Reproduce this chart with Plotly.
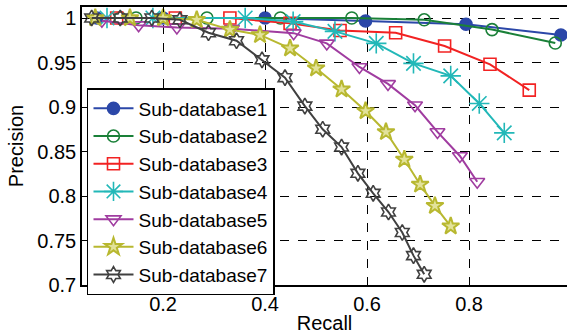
import plotly.graph_objects as go

names = ["Sub-database1", "Sub-database2", "Sub-database3", "Sub-database4",
         "Sub-database5", "Sub-database6", "Sub-database7"]

r1 = [0.07, 0.2, 0.4, 0.597, 0.794, 0.98]
p1 = [1.0, 1.0, 1.0, 0.9966, 0.993, 0.981]

r2 = [0.116, 0.147, 0.286, 0.43, 0.570, 0.712, 0.845, 0.969]
p2 = [1.0, 1.0, 1.0, 1.0, 1.0, 0.998, 0.987, 0.972]

r3 = [0.109, 0.224, 0.331, 0.449, 0.547, 0.656, 0.752, 0.841, 0.918]
p3 = [1.0, 1.0, 1.0, 0.994, 0.986, 0.9835, 0.9685, 0.948, 0.919]

r4 = [0.09, 0.18, 0.361, 0.455, 0.537, 0.618, 0.691, 0.764, 0.82, 0.869]
p4 = [1.0, 1.0, 1.0, 0.996, 0.985, 0.9715, 0.949, 0.935, 0.904, 0.871]

r5 = [0.08, 0.152, 0.227, 0.335, 0.456, 0.521, 0.585, 0.641, 0.694, 0.738, 0.782, 0.816]
p5 = [0.997, 0.992, 0.9895, 0.988, 0.983, 0.9715, 0.945, 0.926, 0.902, 0.872, 0.845, 0.816]

r6 = [0.067, 0.135, 0.2, 0.266, 0.331, 0.39, 0.449, 0.5, 0.55, 0.597, 0.637, 0.673, 0.704, 0.733, 0.764]
p6 = [1.0, 1.0, 1.0, 0.998, 0.987, 0.981, 0.966, 0.9435, 0.92, 0.8955, 0.872, 0.841, 0.813, 0.789, 0.766]

r7 = [0.06, 0.116, 0.178, 0.233, 0.289, 0.344, 0.394, 0.439, 0.478, 0.513, 0.55, 0.582, 0.612, 0.642, 0.669, 0.691, 0.712]
p7 = [1.0, 1.0, 1.0, 0.998, 0.9835, 0.9745, 0.953, 0.933, 0.901, 0.875, 0.855, 0.8255, 0.803, 0.782, 0.759, 0.733, 0.712]

x_ticks = [0.2, 0.4, 0.6, 0.8]
x_labels = ["0.2", "0.4", "0.6", "0.8"]
y_ticks = [0.7, 0.75, 0.8, 0.85, 0.9, 0.95, 1.0]
y_labels = ["0.7", "0.75", "0.8", "0.85", "0.9", "0.95", "1"]

series = [(r1, p1), (r2, p2), (r3, p3), (r4, p4), (r5, p5), (r6, p6), (r7, p7)]
colors = ["#2B47A8", "#1A8038", "#F22222", "#22B8B8", "#A03CA0", "#B8B830", "#404040"]
symbols = ["circle", "circle-open", "square-open", "asterisk-open",
           "triangle-down-open", "star", "hexagram-open"]
sizes = [12, 12, 12, 17, 13, 13, 12]

fig = go.Figure()
for (r, p), name, c, s, sz in zip(series, names, colors, symbols, sizes):
    marker = dict(symbol=s, size=sz, color=c, line=dict(color=c, width=1.6))
    if s == "star":
        marker = dict(symbol=s, size=sz, color="#E2E29A", line=dict(color=c, width=2))
    fig.add_trace(go.Scatter(x=r, y=p, mode="lines+markers", name=name,
                             line=dict(color=c, width=2), marker=marker))

font = "Liberation Sans, Arial, sans-serif"
fig.update_layout(
    width=567, height=336,
    margin=dict(l=82, r=0, t=7, b=51),
    paper_bgcolor="white", plot_bgcolor="white",
    font=dict(family=font, size=20, color="black"),
    legend=dict(x=0.0103, y=0.7086, xanchor="left", yanchor="top",
                bgcolor="white", bordercolor="black", borderwidth=1.5,
                font=dict(size=19), itemwidth=40, tracegroupgap=0),
    showlegend=True,
)
fig.update_xaxes(range=[0.041, 0.992], tickvals=x_ticks, ticktext=x_labels,
                 showline=True, linecolor="black", linewidth=1.5, mirror="ticks",
                 ticks="inside", ticklen=5, tickcolor="black", automargin=False,
                 showgrid=True, gridcolor="black", griddash="dash", gridwidth=1,
                 zeroline=False,
                 title=dict(text="Recall", standoff=2, font=dict(size=20)))
fig.update_yaxes(range=[0.7, 1.0124], tickvals=y_ticks, ticktext=y_labels,
                 showline=True, linecolor="black", linewidth=1.5,
                 ticks="inside", ticklen=5, tickcolor="black", automargin=False,
                 showgrid=True, gridcolor="black", griddash="dash", gridwidth=1,
                 zeroline=False,
                 title=dict(text="Precision", standoff=8, font=dict(size=20)))

fig.write_html("out.html", config={"displayModeBar": False})

with open("out.html", "r", encoding="utf-8") as f:
    html = f.read()
html = html.replace("<head>", "<head><style>html,body{margin:0;padding:0;overflow:hidden;}</style>", 1)
with open("out.html", "w", encoding="utf-8") as f:
    f.write(html)
